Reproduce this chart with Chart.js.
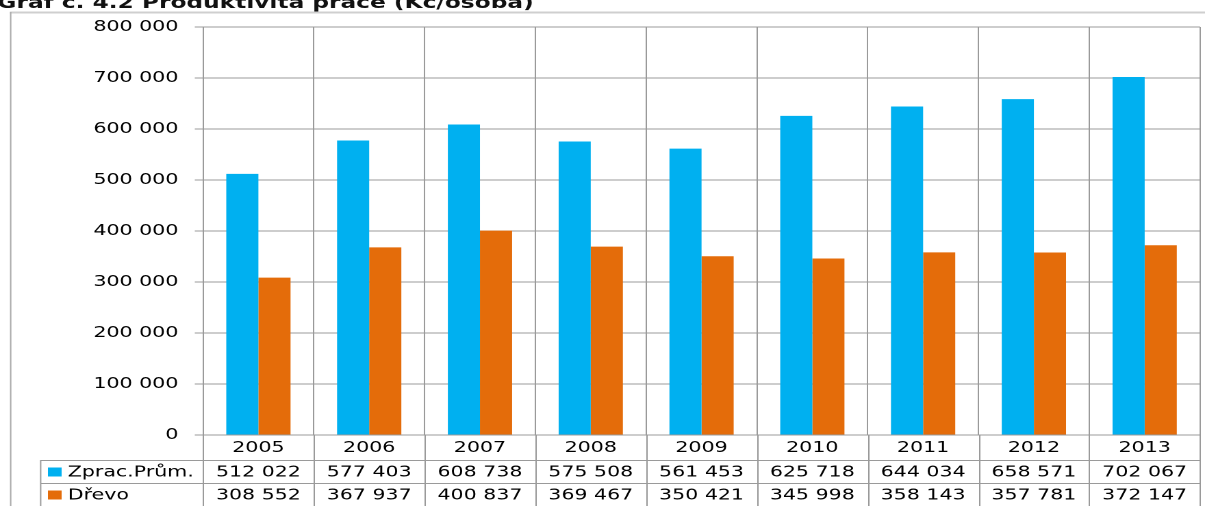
<!DOCTYPE html>
<html>
<head>
<meta charset="utf-8">
<script src="https://cdn.jsdelivr.net/npm/chart.js@4.4.1/dist/chart.umd.min.js"></script>
<style>
  html, body { margin: 0; padding: 0; background: #fff; overflow: hidden; }
  /* the reference is stretched sideways, so the chart is drawn narrow and widened */
  #wrap { position: absolute; left: 0; top: 0; width: 880px; height: 506px;
          transform: scaleX(1.3693); transform-origin: 0 0; }
</style>
</head>
<body>
<div id="wrap"><canvas id="chart" width="880" height="506"></canvas></div>
<script>
const chartTitle = 'Graf č. 4.2 Produktivita práce (Kč/osoba)';
const years = ['2005', '2006', '2007', '2008', '2009', '2010', '2011', '2012', '2013'];
const seriesNames = ['Zprac.Prům.', 'Dřevo'];
const zpracPrum = [512022, 577403, 608738, 575508, 561453, 625718, 644034, 658571, 702067];
const drevo = [308552, 367937, 400837, 369467, 350421, 345998, 358143, 357781, 372147];
const yMax = 800000;
const yStep = 100000;

const GRID = '#9a9a9a';
const FONT = 'DejaVu Sans';
const colors = ['#00B0F0', '#E46C0A'];

function fmt(n) {
  return String(n).replace(/\B(?=(\d{3})+(?!\d))/g, ' ');
}

// frame, title and the data table under the plot
const tablePlugin = {
  id: 'dataTable',
  afterDraw(chart) {
    const { ctx, chartArea, scales: { x } } = chart;
    const rowTop = [460, 483];
    const rowH = 23;
    const legLeft = 29.2;
    const n = years.length;
    const w = (x.right - x.left) / n;

    ctx.save();
    // outer frame
    ctx.strokeStyle = '#cfcfcf';
    ctx.lineWidth = 2;
    ctx.beginPath();
    ctx.moveTo(7.3, 12.5);
    ctx.lineTo(chart.width, 12.5);
    ctx.stroke();
    ctx.strokeStyle = '#a8a8a8';
    ctx.lineWidth = 1;
    ctx.beginPath();
    ctx.moveTo(7.8, 12);
    ctx.lineTo(7.8, chart.height);
    ctx.stroke();

    // title (cut off at the top like the source)
    ctx.fillStyle = '#111';
    ctx.font = 'bold 17px ' + FONT;
    ctx.textAlign = 'left';
    ctx.textBaseline = 'alphabetic';
    ctx.fillText(chartTitle, -2, 8);

    // table lines
    ctx.strokeStyle = GRID;
    ctx.lineWidth = 1;
    ctx.beginPath();
    for (let i = 0; i <= n; i++) {
      const px = Math.round(x.left + i * w) + 0.5;
      ctx.moveTo(px, chartArea.bottom);
      ctx.lineTo(px, chart.height);
    }
    rowTop.forEach(t => {
      ctx.moveTo(legLeft, t + 0.5);
      ctx.lineTo(x.right, t + 0.5);
    });
    ctx.moveTo(legLeft + 0.5, rowTop[0]);
    ctx.lineTo(legLeft + 0.5, chart.height);
    ctx.stroke();

    // legend keys and values
    ctx.font = '15px ' + FONT;
    ctx.textBaseline = 'middle';
    [zpracPrum, drevo].forEach((vals, r) => {
      const cy = rowTop[r] + rowH / 2 + 1;
      ctx.fillStyle = colors[r];
      ctx.fillRect(35, cy - 5, 10, 9);
      ctx.fillStyle = '#000';
      ctx.textAlign = 'left';
      ctx.fillText(seriesNames[r], 49.5, cy);
      ctx.textAlign = 'center';
      vals.forEach((v, i) => {
        ctx.fillText(fmt(v), x.getPixelForValue(i), cy);
      });
    });
    ctx.restore();
  }
};

new Chart(document.getElementById('chart'), {
  type: 'bar',
  data: {
    labels: years,
    datasets: [
      { label: seriesNames[0], data: zpracPrum, backgroundColor: colors[0] },
      { label: seriesNames[1], data: drevo, backgroundColor: colors[1] }
    ]
  },
  options: {
    responsive: false,
    animation: false,
    devicePixelRatio: 2,
    categoryPercentage: 0.58,
    barPercentage: 1,
    layout: { padding: { top: 27, left: 0, right: 3.6, bottom: 0 } },
    plugins: {
      legend: { display: false },
      tooltip: { enabled: false }
    },
    scales: {
      x: {
        grid: { color: GRID, offset: true, drawTicks: false },
        border: { color: GRID },
        ticks: { color: '#000', font: { family: FONT, size: 15 }, padding: 4, maxRotation: 0 },
        afterFit: (s) => { s.height = 71; }
      },
      y: {
        min: 0,
        max: yMax,
        ticks: { stepSize: yStep, color: '#000', font: { family: FONT, size: 15 }, padding: 12,
                 callback: v => fmt(v) },
        grid: { color: GRID, tickLength: 6 },
        border: { color: GRID },
        afterFit: (s) => { s.width = 148.25; }
      }
    }
  },
  plugins: [tablePlugin]
});
</script>
</body>
</html>
